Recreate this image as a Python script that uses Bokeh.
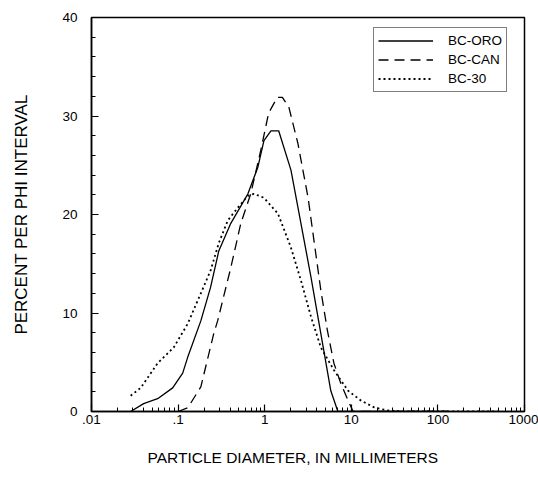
from bokeh.plotting import figure
from bokeh.models import (FixedTicker, SingleIntervalTicker, CustomJSTickFormatter,
                          Legend, LegendItem, Range1d, Title)
from bokeh.embed import file_html
from bokeh.resources import INLINE

# ---- data ----
oro_x = [0.0283, 0.04, 0.058, 0.0866, 0.113, 0.129, 0.183, 0.237, 0.295, 0.406, 0.64,
         0.834, 0.98, 1.18, 1.45, 2.01, 2.62, 3.43, 4.45, 5.8, 7.0, 20, 130]
oro_y = [0, 0.8, 1.3, 2.4, 3.9, 5.5, 9.2, 12.6, 16.3, 19.1, 22.1,
         24.8, 27.5, 28.5, 28.5, 24.5, 19.1, 13.6, 7.9, 2.1, 0, 0, 0]

can_x = [0.1, 0.13, 0.183, 0.258, 0.286, 0.406, 0.53, 0.69, 0.9, 1.11, 1.4, 1.6,
         1.9, 2.42, 3.17, 3.7, 4.45, 5.3, 6.3, 7.6, 9.2, 10.5, 30, 130]
can_y = [0, 0.4, 2.5, 7.9, 9.2, 14.6, 19.1, 22.1, 26.5, 30.3, 31.9, 31.9,
         30.9, 27.2, 21.7, 17.4, 12.3, 8.2, 4.9, 2.8, 1.1, 0, 0, 0]

b30_x = [0.0283, 0.037, 0.058, 0.089, 0.129, 0.183, 0.237, 0.295, 0.375, 0.49, 0.64,
         0.75, 0.98, 1.42, 2.0, 2.62, 3.43, 4.45, 6.3, 9.2, 13, 18.5, 26.5, 40, 500]
b30_y = [1.6, 2.4, 4.9, 6.5, 8.9, 12.0, 14.3, 17.1, 19.4, 20.7, 21.9,
         22.1, 21.7, 20.1, 16.7, 13.3, 9.6, 6.5, 4.2, 2.1, 1.1, 0.4, 0.1, 0, 0]

series_names = ["BC-ORO", "BC-CAN", "BC-30"]

x_tick_values = [0.01, 0.1, 1, 10, 100, 1000]
x_tick_labels = [".01", ".1", "1", "10", "100", "1000"]
x_title = "PARTICLE DIAMETER, IN MILLIMETERS"
y_title = "PERCENT PER PHI INTERVAL"

FONT = "Liberation Sans"

p = figure(width=538, height=488, x_axis_type="log",
           x_range=Range1d(0.01, 1000), y_range=Range1d(0, 40),
           output_backend="svg", toolbar_location=None,
           min_border_left=91, min_border_right=14, min_border_top=17,
           min_border_bottom=77)
p.grid.visible = False
p.background_fill_color = "white"
p.border_fill_color = "white"
p.outline_line_color = "black"
p.outline_line_width = 1.5

# x axis
minor = [m * 10.0 ** k for k in range(-2, 3) for m in range(2, 10)]
p.xaxis.ticker = FixedTicker(ticks=x_tick_values, minor_ticks=minor)
p.xaxis.formatter = CustomJSTickFormatter(
    args=dict(vals=x_tick_values, labs=x_tick_labels),
    code="""
    for (let i = 0; i < vals.length; i++) {
        if (Math.abs(Math.log10(tick) - Math.log10(vals[i])) < 1e-6) return labs[i];
    }
    return '';
    """)

# y axis
p.yaxis.ticker = SingleIntervalTicker(interval=10, num_minor_ticks=5)
p.yaxis.axis_label = y_title

for ax in (p.xaxis[0], p.yaxis[0]):
    ax.axis_line_color = "black"
    ax.axis_line_width = 1.5
    ax.major_tick_in = 7
    ax.major_tick_out = 0
    ax.minor_tick_in = 4
    ax.minor_tick_out = 0
    ax.major_tick_line_color = "black"
    ax.minor_tick_line_color = "black"
    ax.major_tick_line_width = 1.2
    ax.minor_tick_line_width = 1
    ax.major_label_text_font = FONT
    ax.major_label_text_font_size = "13.5px"
    ax.major_label_text_color = "black"
    ax.axis_label_text_font = FONT
    ax.axis_label_text_font_style = "normal"
    ax.axis_label_text_color = "black"

p.yaxis.axis_label_text_font_size = "17px"
p.xaxis.major_label_standoff = 3
p.yaxis.major_label_standoff = 14
p.yaxis.axis_label_standoff = 28

# x-axis title below the axis, offset as in the reference
p.add_layout(Title(text=x_title, align="left", offset=56, standoff=40,
                   vertical_align="bottom",
                   text_font=FONT, text_font_size="15.5px",
                   text_font_style="normal", text_color="black"), "below")

r1 = p.line(oro_x, oro_y, line_color="black", line_width=1.3)
r2 = p.line(can_x, can_y, line_color="black", line_width=1.3, line_dash="10 6")
r3 = p.line(b30_x, b30_y, line_color="black", line_width=1.8, line_dash="2 3")

legend = Legend(items=[LegendItem(label=series_names[0], renderers=[r1]),
                       LegendItem(label=series_names[1], renderers=[r2]),
                       LegendItem(label=series_names[2], renderers=[r3])],
                location=(282, 319))
legend.border_line_color = "black"
legend.border_line_width = 1.2
legend.background_fill_alpha = 1
legend.label_text_font = FONT
legend.label_text_font_size = "13.5px"
legend.label_text_color = "black"
legend.glyph_width = 55
legend.glyph_height = 17
legend.label_height = 17
legend.label_standoff = 15
legend.spacing = 2
legend.padding = 4
legend.margin = 0
p.add_layout(legend)

open("out.html", "w").write(file_html(p, INLINE))
